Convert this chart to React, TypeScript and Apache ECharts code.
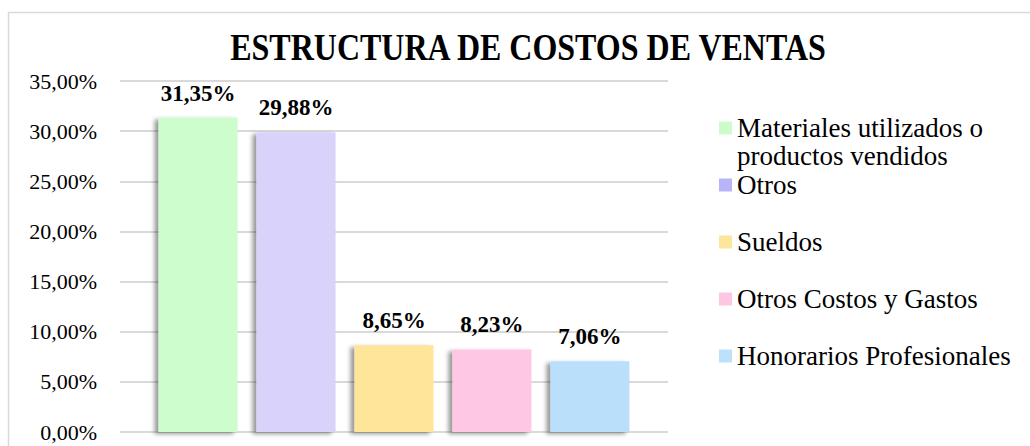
import React, { useEffect, useRef } from 'react';
import * as echarts from 'echarts';

const titleText = 'ESTRUCTURA DE COSTOS DE VENTAS';
const seriesNames = [
  'Materiales utilizados o productos vendidos',
  'Otros',
  'Sueldos',
  'Otros Costos y Gastos',
  'Honorarios Profesionales',
];
const legendLabels = [
  '\nMateriales utilizados o\nproductos vendidos',
  'Otros',
  'Sueldos',
  'Otros Costos y Gastos',
  'Honorarios Profesionales',
];
const values = [31.35, 29.88, 8.65, 8.23, 7.06];
const barColors = ['#cdfdcc', '#d9d3fc', '#fee59a', '#fec8e4', '#b9dffa'];
const legendColors = ['#ccfccc', '#b9b3f8', '#fde59c', '#fdc7e3', '#bde0fb'];
const yMin = 0;
const yMax = 35;
const yInterval = 5;

const FONT = '"Liberation Serif", "Times New Roman", serif';
const fmt = (v: number) => v.toFixed(2).replace('.', ',') + '%';

const legendTops = [86, 171.5, 227, 284, 341];
const legendLineHeights = [28, 26, 30, 30, 30];

export default function App() {
  const ref = useRef<HTMLDivElement>(null);
  useEffect(() => {
    if (!ref.current) return;
    const chart = echarts.init(ref.current, undefined, { renderer: 'svg' });
    const option: any = {
      animation: false,
      backgroundColor: '#ffffff',
      graphic: [
        {
          type: 'rect',
          shape: { x: 8.5, y: 12.5, width: 1100, height: 500 },
          style: { fill: 'none', stroke: '#d9d9d9', lineWidth: 1.5 },
          silent: true,
          z: -10,
        },
        {
          type: 'text',
          x: 528,
          y: 47,
          scaleX: 0.865,
          style: {
            text: titleText,
            fontFamily: FONT,
            fontWeight: 'bold',
            fontSize: 37,
            fill: '#000',
            align: 'center',
            verticalAlign: 'middle',
          },
        },
      ],
      legend: seriesNames.map((name, i) => ({
        data: [{ name, itemStyle: { color: legendColors[i] } }],
        orient: 'vertical',
        left: 719,
        top: legendTops[i],
        padding: 0,
        itemWidth: 13,
        itemHeight: 13,
        icon: 'rect',
        formatter: () => legendLabels[i],
        textStyle: {
          fontFamily: FONT,
          fontSize: 27,
          color: '#000',
          lineHeight: legendLineHeights[i],
        },
      })),
      grid: { left: 120, right: 362, top: 81, bottom: 14, containLabel: false },
      xAxis: {
        type: 'category',
        data: [''],
        axisLine: { show: false },
        axisTick: { show: false },
        axisLabel: { show: false },
      },
      yAxis: {
        type: 'value',
        min: yMin,
        max: yMax,
        interval: yInterval,
        axisLine: { show: false },
        axisTick: { show: false },
        axisLabel: {
          formatter: (v: number) => fmt(v),
          fontFamily: FONT,
          fontSize: 22,
          color: '#000',
          margin: 23,
        },
        splitLine: { lineStyle: { color: '#d9d9d9', width: 2 } },
      },
      series: seriesNames.map((name, i) => ({
        name,
        type: 'bar',
        data: [values[i]],
        barWidth: 79,
        barGap: '24%',
        itemStyle: {
          color: barColors[i],
          shadowColor: 'rgba(0,0,0,0.4)',
          shadowBlur: 4,
          shadowOffsetX: -4,
          shadowOffsetY: 2,
        },
        label: {
          show: true,
          position: 'top',
          distance: 13,
          formatter: (p: any) => fmt(p.value),
          fontFamily: FONT,
          fontWeight: 'bold',
          fontSize: 23,
          color: '#000',
        },
      })),
    };
    chart.setOption(option);
    return () => chart.dispose();
  }, []);
  return <div ref={ref} style={{ position: 'absolute', left: 0, top: 0, width: 1030, height: 446 }} />;
}
